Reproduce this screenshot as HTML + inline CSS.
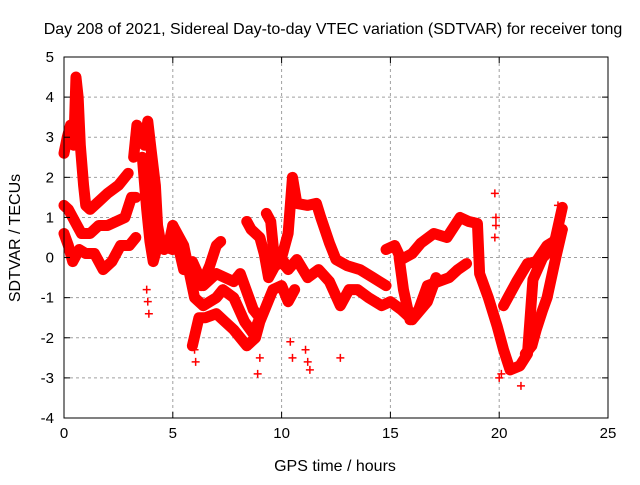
<!DOCTYPE html>
<html><head><meta charset="utf-8"><style>
body{margin:0;background:#fff;}
svg text{font-family:"Liberation Sans",sans-serif;fill:#000;}
</style></head><body>
<svg id="chart" width="640" height="480" xmlns="http://www.w3.org/2000/svg">
<rect width="640" height="480" fill="#fff"/>
<text x="333" y="34" font-size="16" text-anchor="middle">Day 208 of 2021, Sidereal Day-to-day VTEC variation (SDTVAR) for receiver tong</text>
<text x="335" y="471" font-size="16" text-anchor="middle">GPS time / hours</text>
<text transform="translate(20,238) rotate(-90)" font-size="16" text-anchor="middle">SDTVAR / TECUs</text>
<g id="grid"></g><g id="marks"></g><g id="axes"></g>
</svg>
<script>
const xTicks=[0,5,10,15,20,25];
const yTicks=[-4,-3,-2,-1,0,1,2,3,4,5];
const trackT=[
[0,0.15,0.3,0.45,0.55,0.65,0.75,0.9,1.0,1.2,1.6,2.0,2.5,2.8,2.95],
[0,0.2,0.5,0.8,1.2,1.6,2.0,2.4,2.8,3.1,3.3],
[0,0.2,0.4,0.7,1.0,1.4,1.8,2.2,2.6,3.0,3.3],
[3.2,3.35,3.5,3.7,3.85,4.0,4.2,4.3,4.4,4.6,4.8,5.0,5.2,5.5,5.8,6.0,6.3,6.7,7.0,7.2],
[3.6,3.8,3.95,4.1,4.3],
[4.5,5.0,5.2,5.5,5.9,6.4,7.0,7.8,8.1,8.7,9.0],
[5.0,5.5,6.0,6.4,7.0,7.3,7.8,8.3,8.7,9.0],
[5.9,6.2,6.5,7.0,7.4,7.8,8.4,8.8,9.0,9.3,9.6,10.0,10.3,10.6],
[8.4,8.6,9.0,9.2,9.4,9.7,10.1],
[9.3,9.5,9.7,10.0,10.3,10.5,10.7,11.2,11.6,11.8,12.2,12.5,13.0,13.6,14.2,14.8],
[10.0,10.3,10.7,11.2,11.7,12.2,12.7,13.1,13.5,14.0,14.6,15.0,15.5,16.0,16.7,17.1],
[14.8,15.2,15.5,16.0,16.4,17.0,17.6,18.2,18.6,19.0,19.1,19.5,19.9,20.2,20.5,20.95,21.3,21.55,22.0,22.5,22.9],
[15.4,15.6,15.9,16.3,16.7,17.2,17.7,18.1,18.5],
[20.2,20.4,20.8,21.3,21.7,22.2,22.5,22.9],
[21.2,21.5,21.7,22.0,22.2,22.6,22.9]
];
const trackV=[
[2.6,3.0,3.3,2.8,4.5,4.0,2.8,1.8,1.3,1.2,1.4,1.6,1.8,2.0,2.1],
[1.3,1.2,0.9,0.6,0.6,0.8,0.8,0.9,1.0,1.5,1.5],
[0.6,0.3,-0.1,0.2,0.1,0.1,-0.3,-0.1,0.3,0.3,0.5],
[2.5,3.3,3.1,2.8,3.4,2.7,1.8,0.8,0.5,0.2,0.3,0.8,0.4,0.1,-0.4,-0.6,-0.7,-0.2,0.3,0.4],
[2.5,1.2,0.4,-0.1,0.3],
[0.3,0.2,0.4,-0.3,-0.1,-0.7,-0.4,-0.6,-0.4,-1.3,-1.5],
[0.8,0.3,-1.0,-1.2,-1.0,-0.8,-1.0,-1.6,-1.9,-1.5],
[-2.2,-1.5,-1.5,-1.4,-1.6,-1.8,-2.2,-2.0,-1.6,-1.2,-0.8,-0.7,-1.1,-0.8],
[0.9,0.7,0.5,0.1,-0.5,-0.2,-0.1],
[1.1,0.9,-0.2,0.0,0.6,2.0,1.35,1.3,1.35,1.0,0.36,-0.05,-0.2,-0.3,-0.5,-0.7],
[-0.1,-0.3,-0.05,-0.5,-0.3,-0.6,-1.2,-0.8,-0.8,-1.0,-1.2,-1.1,-1.3,-1.55,-1.1,-0.5],
[0.2,0.3,-0.05,0.1,0.36,0.6,0.5,1.0,0.9,0.85,-0.4,-1.0,-1.7,-2.3,-2.8,-2.7,-2.4,-0.55,0.0,0.27,1.25],
[0.0,-0.8,-1.55,-1.3,-0.7,-0.6,-0.5,-0.3,-0.15],
[-1.2,-1.0,-0.6,-0.15,-0.1,0.3,0.4,0.7],
[-2.4,-2.2,-1.8,-1.3,-1.0,0.0,0.7]
];
const dotT=[3.8,3.85,3.9,6.0,6.05,8.9,9.0,10.4,10.5,11.1,11.2,11.3,12.7,19.8,19.85,19.85,19.8,20.0,20.1,21.0,22.7];
const dotV=[-0.8,-1.1,-1.4,-2.3,-2.6,-2.9,-2.5,-2.1,-2.5,-2.3,-2.6,-2.8,-2.5,1.6,1.0,0.8,0.5,-3.0,-2.9,-3.2,1.3];
const NS="http://www.w3.org/2000/svg";
const L=64,R=608,T=57,B=418;
function xs(t){return L+(t-0)/(25-0)*(R-L);}
function ys(v){return B-(v+4)/9*(B-T);}
const grid=document.getElementById('grid'),marks=document.getElementById('marks'),axes=document.getElementById('axes');
function mk(tag,attrs,parent){const e=document.createElementNS(NS,tag);for(const k in attrs)e.setAttribute(k,attrs[k]);parent.appendChild(e);return e;}
xTicks.forEach(t=>{
 if(t>0&&t<25){const g=mk('line',{x1:xs(t),x2:xs(t),y1:T,y2:B,stroke:'#a0a0a0','stroke-dasharray':'3,3'},grid);
 
 }
 mk('line',{x1:xs(t),x2:xs(t),y1:B,y2:B-6,stroke:'#000'},axes);
 mk('line',{x1:xs(t),x2:xs(t),y1:T,y2:T+6,stroke:'#000'},axes);
 const tx=mk('text',{x:xs(t),y:B+20,'font-size':'15','text-anchor':'middle'},axes);tx.textContent=t;
 
 
});
yTicks.forEach(v=>{
 if(v>-4&&v<5){const g=mk('line',{x1:L,x2:R,y1:ys(v),y2:ys(v),stroke:'#a0a0a0','stroke-dasharray':'3,3'},grid);
 
 }
 mk('line',{x1:L,x2:L+6,y1:ys(v),y2:ys(v),stroke:'#000'},axes);
 mk('line',{x1:R,x2:R-6,y1:ys(v),y2:ys(v),stroke:'#000'},axes);
 const tx=mk('text',{x:L-10,y:ys(v)+5,'font-size':'15','text-anchor':'end'},axes);tx.textContent=v;
 
 
});
const fr=mk('rect',{x:L,y:T,width:R-L,height:B-T,fill:'none',stroke:'#000'},axes);


function cross(x,y){
 const p=mk('path',{d:`M${x-4},${y}H${x+4}M${x},${y-4}V${y+4}`,stroke:'#f00','stroke-width':'1.5'},marks);
 
 
}
trackT.forEach((ts,i)=>{
 const pts=ts.map((t,j)=>xs(t)+','+ys(trackV[i][j])).join(' ');
 const pl=mk('polyline',{points:pts,fill:'none',stroke:'#f00','stroke-width':'11','stroke-linejoin':'round','stroke-linecap':'round'},marks);
 
 
 ts.forEach((t,j)=>cross(xs(t),ys(trackV[i][j])));
});
dotT.forEach((t,i)=>cross(xs(t),ys(dotV[i])));
</script>
</body></html>
